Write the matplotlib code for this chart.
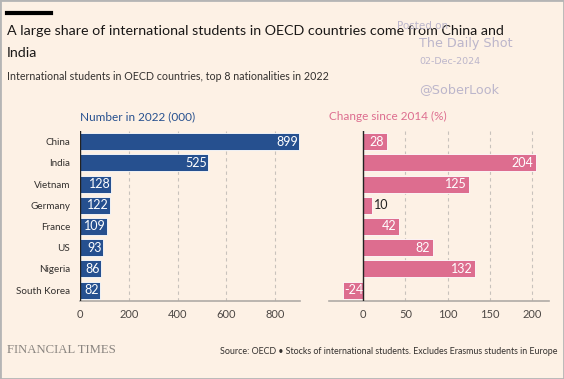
import matplotlib.pyplot as plt
import numpy as np

countries = ["China", "India", "Vietnam", "Germany", "France", "US", "Nigeria", "South Korea"]
number_2022 = [899, 525, 128, 122, 109, 93, 86, 82]
change_2014 = [28, 204, 125, 10, 42, 82, 132, -24]

bg = "#fdf1e5"
blue = "#26508f"
pink = "#dd6d8f"
W, H = 564, 379

plt.rcParams["font.family"] = ["Lato", "DejaVu Sans"]

fig = plt.figure(figsize=(W / 100, H / 100), dpi=100, facecolor=bg)


def box(x0, y0, x1, y1):
    # pixel box (top-left origin) -> figure fraction
    return [x0 / W, 1 - y1 / H, (x1 - x0) / W, (y1 - y0) / H]


y = np.arange(len(countries))

# left panel: number in 2022
ax1 = fig.add_axes(box(80, 131, 300, 300.7))
ax1.barh(y, number_2022, height=0.8, color=blue, edgecolor="white", linewidth=0.6, zorder=3)
ax1.set_xlim(0, 902)
ax1.set_ylim(7.5, -0.5)
ax1.set_yticks(y)
ax1.set_yticklabels(countries)
ax1.set_xticks([0, 200, 400, 600, 800])
for v, yy in zip(number_2022, y):
    ax1.text(v - 4, yy, str(v), color="white", ha="right", va="center", fontsize=9, zorder=4)
ax1.set_title("Number in 2022 (000)", loc="left", color=blue, fontsize=8.5, pad=8)

# right panel: change since 2014
ax2 = fig.add_axes(box(329.3, 131, 549.3, 300.7))
ax2.barh(y, change_2014, height=0.8, color=pink, edgecolor="white", linewidth=0.6, zorder=3)
ax2.set_xlim(-40, 220)
ax2.set_ylim(7.5, -0.5)
ax2.set_yticks([])
ax2.set_xticks([0, 50, 100, 150, 200])
for v, yy in zip(change_2014, y):
    if v < 0:
        ax2.text(v + 2, yy, str(v), color="white", ha="left", va="center", fontsize=9, zorder=4)
    elif v < 20:
        ax2.text(v + 3, yy, str(v), color="#222222", ha="left", va="center", fontsize=9, zorder=4)
    else:
        ax2.text(v - 3, yy, str(v), color="white", ha="right", va="center", fontsize=9, zorder=4)
ax2.axvline(0, color="#222222", linewidth=1, zorder=5)
ax2.set_title("Change since 2014 (%)", loc="left", color=pink, fontsize=8.5, pad=8)

for ax in (ax1, ax2):
    ax.set_facecolor(bg)
    for s in ("top", "right", "left"):
        ax.spines[s].set_visible(False)
    ax.spines["bottom"].set_color("#b0aba6")
    ax.spines["bottom"].set_linewidth(1.2)
    ax.grid(axis="x", linestyle=(0, (3, 3)), color="#c8c2bc", linewidth=0.8, zorder=0)
    ax.tick_params(axis="both", length=0, labelsize=8, labelcolor="#4d4845", pad=6)
ax1.axvline(0, color="#222222", linewidth=1, zorder=5)
ax1.tick_params(axis="y", labelcolor="#33302e", labelsize=7.1, pad=7)

# header
fig.add_artist(plt.Line2D([7 / W, 51 / W], [1 - 13 / H, 1 - 13 / H], color="black", linewidth=3))
fig.text(7 / W, 1 - 31 / H, "A large share of international students in OECD countries come from China and",
         fontsize=10.3, color="#1a1817", va="center")
fig.text(7 / W, 1 - 53 / H, "India", fontsize=10.3, color="#1a1817", va="center")
fig.text(7 / W, 1 - 77 / H, "International students in OECD countries, top 8 nationalities in 2022",
         fontsize=7.7, color="#33302e", va="center")

# watermark
fig.text(397 / W, 1 - 26 / H, "Posted on", fontsize=7.5, color="#bcb6cb", va="center", family="DejaVu Sans")
fig.text(419 / W, 1 - 43 / H, "The Daily Shot", fontsize=9.2, color="#bcb6cb", va="center", family="DejaVu Sans")
fig.text(419 / W, 1 - 61 / H, "02-Dec-2024", fontsize=6.8, color="#bcb6cb", va="center", family="DejaVu Sans")
fig.text(419 / W, 1 - 90 / H, "@SoberLook", fontsize=9.2, color="#bcb6cb", va="center", family="DejaVu Sans")

# footer
fig.text(7 / W, 1 - 350 / H, "FINANCIAL TIMES", fontsize=9.2, color="#8a8580", va="center",
         family=["Liberation Serif", "DejaVu Serif"])
fig.text(558 / W, 1 - 352 / H, "Source: OECD \u2022 Stocks of international students. Excludes Erasmus students in Europe",
         fontsize=6.4, color="#33302e", va="center", ha="right")

# border
fig.add_artist(plt.Rectangle((0, 0), 1, 1, transform=fig.transFigure, fill=False, edgecolor="#b5b5b5", linewidth=2))

fig.savefig("out.png", dpi=100, facecolor=bg)
